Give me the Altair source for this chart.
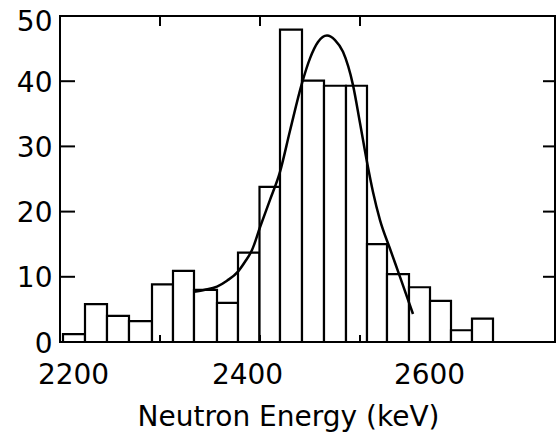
import altair as alt
import pandas as pd

# Histogram bin edges (keV) and counts
bin_edges = [2203, 2225, 2247, 2269, 2292, 2313, 2334, 2357, 2378, 2399.5, 2420,
             2442, 2464, 2486, 2507, 2527, 2549, 2570, 2591, 2612, 2633]
counts = [1.2, 5.8, 4.0, 3.2, 8.85, 10.9, 8.0, 6.0, 13.7, 23.8,
          47.9, 40.1, 39.3, 39.3, 15.0, 10.4, 8.4, 6.3, 1.8, 3.6]

# Fitted curve
fit_energy = [2334, 2345, 2357, 2367, 2378, 2385, 2392, 2400, 2410, 2420, 2430, 2442,
              2450, 2458, 2467, 2475, 2483, 2493, 2500, 2507, 2513, 2520, 2530, 2540, 2553]
fit_counts = [7.7, 8.0, 8.5, 9.4, 10.8, 12.3, 14.1, 17.6, 21.8, 26.1, 32.4, 39.7,
              43.5, 46.0, 47.0, 46.3, 44.5, 39.4, 33.6, 27.6, 23.0, 18.7, 14.3, 10.0, 4.3]

x_labels = [2200, 2400, 2600]
x_ticks = [2300, 2400, 2500]
y_labels = [0, 10, 20, 30, 40, 50]
y_ticks = [10, 20, 30, 40]

bars = pd.DataFrame({"start": bin_edges[:-1], "end": bin_edges[1:], "count": counts})
fit = pd.DataFrame({"energy": fit_energy, "count": fit_counts})
xt = pd.DataFrame({"e": x_ticks})
yt = pd.DataFrame({"v": y_ticks})

FONT = "DejaVu Sans"
W, H = 495, 326
xscale = alt.Scale(domain=[2200, 2695], nice=False, zero=False)
yscale = alt.Scale(domain=[0, 50], nice=False)

x_axis = alt.Axis(
    values=x_labels, format="d", title="Neutron Energy (keV)", grid=False, ticks=False,
    tickSize=0, domain=False, labelFont=FONT, labelFontSize=28, labelColor="black",
    labelPadding=41, labelBaseline="alphabetic", labelFlush=False, labelOverlap=False,
    labelOffset={"condition": [{"test": "datum.value == 2200", "value": 13},
                               {"test": "datum.value == 2400", "value": -13}],
                 "value": -31},
    titleFont=FONT, titleFontSize=28, titleFontWeight="normal", titleColor="black",
    titleX=228, titleY=83, titleAlign="center", titleBaseline="alphabetic",
)
y_axis = alt.Axis(
    values=y_labels, format="d", title=None, grid=False, ticks=False, tickSize=0,
    domain=False, labelFont=FONT, labelFontSize=28, labelColor="black", labelPadding=8,
    labelBaseline="middle", labelFlush=False, labelOverlap=False,
    labelOffset={"condition": [{"test": "datum.value == 50", "value": 6}], "value": 2},
)

hist = alt.Chart(bars).mark_rect(fill="white", stroke="black", strokeWidth=2.2).encode(
    x=alt.X("start:Q", scale=xscale, axis=x_axis),
    x2="end:Q",
    y=alt.Y("count:Q", scale=yscale, axis=y_axis),
    y2=alt.datum(0),
)

curve = alt.Chart(fit).mark_line(color="black", strokeWidth=2.5, interpolate="monotone").encode(
    x=alt.X("energy:Q", scale=xscale),
    y=alt.Y("count:Q", scale=yscale),
)

bottom_ticks = alt.Chart(xt).mark_rule(color="black", strokeWidth=2).encode(
    x=alt.X("e:Q", scale=xscale), y=alt.value(H - 7), y2=alt.value(H))
top_ticks = alt.Chart(xt).mark_rule(color="black", strokeWidth=2).encode(
    x=alt.X("e:Q", scale=xscale), y=alt.value(0), y2=alt.value(10))
left_ticks = alt.Chart(yt).mark_rule(color="black", strokeWidth=2).encode(
    y=alt.Y("v:Q", scale=yscale), x=alt.value(0), x2=alt.value(15))
right_ticks = alt.Chart(yt).mark_rule(color="black", strokeWidth=2).encode(
    y=alt.Y("v:Q", scale=yscale), x=alt.value(W - 12), x2=alt.value(W))

chart = alt.layer(hist, curve, bottom_ticks, top_ticks, left_ticks, right_ticks).properties(
    width=W, height=H,
    autosize=alt.AutoSizeParams(type="none"),
    padding={"left": 60, "top": 16, "right": 3, "bottom": 91},
    background="white",
).configure_view(stroke="black", strokeWidth=2)

chart.save("out.html", embed_options={"renderer": "svg", "actions": False})
